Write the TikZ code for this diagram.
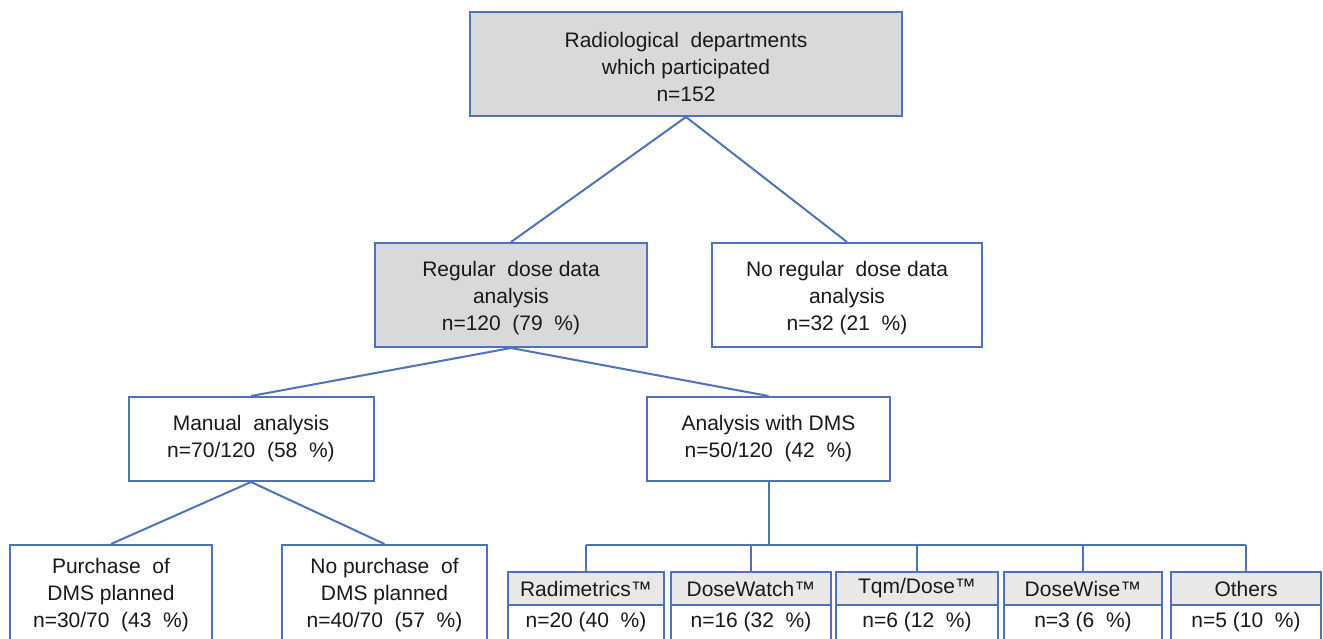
\documentclass[tikz,border=0pt]{standalone}
\usepackage{fontspec}
\setmainfont{Liberation Sans}
\definecolor{edge}{RGB}{79,113,190}
\definecolor{boxgray}{RGB}{217,217,217}
\definecolor{hdrgray}{RGB}{232,232,232}
\newcommand{\dsp}{~ }
\newcommand{\lift}{\rule{0pt}{21pt}}
\begin{document}
\begin{tikzpicture}[x=1pt,y=-1pt,
  box/.style={draw=edge,line width=2pt,rectangle,align=center,inner sep=0pt,
    font=\fontsize{21}{27}\selectfont,text=black!90},
  shaded/.style={box,fill=boxgray},
  hdr/.style={box,fill=hdrgray,minimum height=33pt},
  val/.style={box,fill=white,minimum height=35pt},
  link/.style={draw=edge,line width=2pt}]
\useasboundingbox (0,0) rectangle (1323,638);
\clip (0,0) rectangle (1323,638);
\fill[white] (0,0) rectangle (1323,638);
% main tree
\node[shaded,minimum width=432pt,minimum height=104pt] (top) at (686,64)
  {\lift Radiological\dsp departments\\which participated\\n=152};
\node[shaded,minimum width=272pt,minimum height=104pt] (reg) at (511,295)
  {\lift Regular\dsp dose data\\analysis\\n=120\dsp (79\dsp \%)};
\node[box,minimum width=270pt,minimum height=104pt] (noreg) at (847,295)
  {\lift No regular\dsp dose data\\analysis\\n=32 (21\dsp \%)};
\node[box,minimum width=245pt,minimum height=84pt] (man) at (251,439)
  {Manual\dsp analysis\\n=70/120\dsp (58\dsp \%)};
\node[box,minimum width=243pt,minimum height=84pt] (dms) at (768.5,439)
  {Analysis with DMS\\n=50/120\dsp (42\dsp \%)};
\node[box,minimum width=202pt,minimum height=100pt] (pur) at (111,595)
  {Purchase\dsp of\\DMS planned\\n=30/70\dsp (43\dsp \%)};
\node[box,minimum width=205pt,minimum height=100pt] (nopur) at (384.5,595)
  {No purchase\dsp of\\DMS planned\\n=40/70\dsp (57\dsp \%)};
% DMS products
\node[hdr,minimum width=156pt] (radh) at (586,588.5) {Radimetrics™};
\node[val,minimum width=156pt] (radv) at (586,622.5) {n=20 (40\dsp \%)};
\node[hdr,minimum width=160pt] (dwh) at (751,588.5) {DoseWatch™};
\node[val,minimum width=160pt] (dwv) at (751,622.5) {n=16 (32\dsp \%)};
\node[hdr,minimum width=162pt] (tqh) at (917,588.5) {Tqm/Dose™};
\node[val,minimum width=162pt] (tqv) at (917,622.5) {n=6 (12\dsp \%)};
\node[hdr,minimum width=158pt] (dwih) at (1083,588.5) {DoseWise™};
\node[val,minimum width=158pt] (dwiv) at (1083,622.5) {n=3 (6\dsp \%)};
\node[hdr,minimum width=150pt] (othh) at (1246,588.5) {Others};
\node[val,minimum width=150pt] (othv) at (1246,622.5) {n=5 (10\dsp \%)};
% connectors
\draw[link] (top.south) -- (reg.north);
\draw[link] (top.south) -- (noreg.north);
\draw[link] (reg.south) -- (man.north);
\draw[link] (reg.south) -- (dms.north);
\draw[link] (man.south) -- (pur.north);
\draw[link] (man.south) -- (nopur.north);
\coordinate (bus) at (768.5,545);
\draw[link] (dms.south) -- (bus);
\draw[link] (radh.north |- bus) -- (othh.north |- bus);
\foreach \n in {radh,dwh,tqh,dwih,othh}
  \draw[link] (\n.north |- bus) -- (\n.north);
\end{tikzpicture}
\end{document}
